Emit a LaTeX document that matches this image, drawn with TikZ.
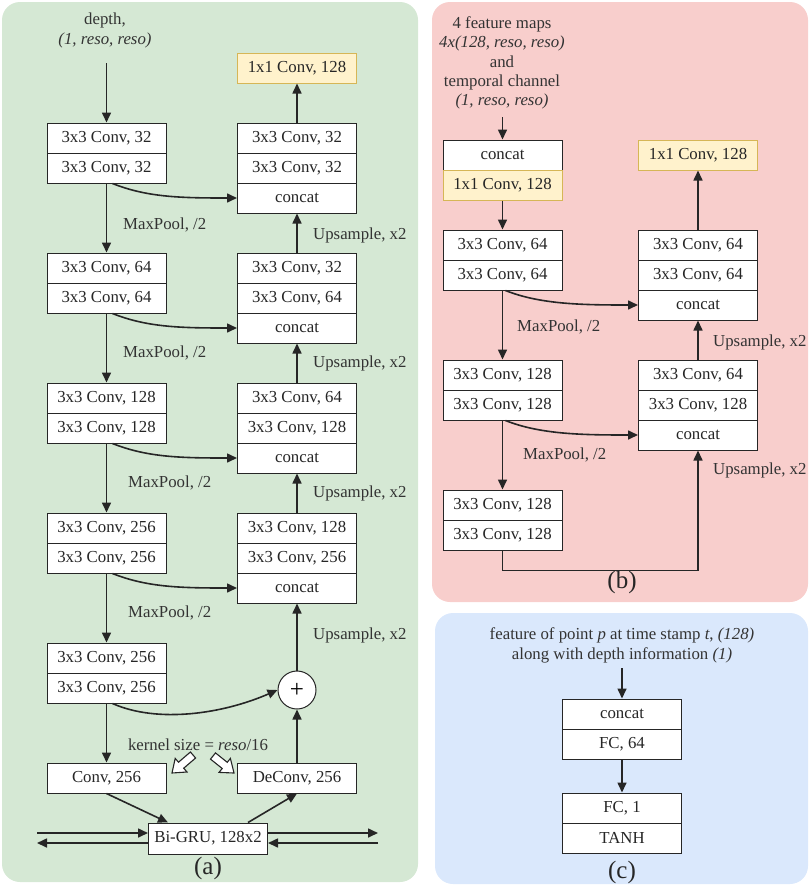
\documentclass[tikz,border=0pt]{standalone}
\usepackage{fontspec}
\setmainfont{Liberation Serif}
\usetikzlibrary{arrows.meta,calc}
\definecolor{gbg}{HTML}{D5E8D4}
\definecolor{pbg}{HTML}{F8CECC}
\definecolor{bbg}{HTML}{DAE8FC}
\definecolor{yfill}{HTML}{FFF2CC}
\definecolor{ydraw}{HTML}{D6B656}
\newcommand{\fsz}{\fontsize{16.8}{19.5}\selectfont}
\newcommand{\fbig}{\fontsize{25}{28}\selectfont}
\begin{document}
\begin{tikzpicture}[x=1pt,y=-1pt,
  blk/.style={draw=black!85, line width=1pt, fill=white, minimum width=119pt, minimum height=30pt, inner sep=0pt, font=\fsz, text=black!85},
  yel/.style={blk, fill=yfill, draw=ydraw},
  arr/.style={-{Triangle[length=10pt,width=9pt]}, line width=1.6pt, draw=black!85},
  lbl/.style={font=\fsz, text=black!80, inner sep=0pt},
  panel/.style={rounded corners=18pt, draw=none},
  hollow/.style={draw=black!85, line width=1.1pt, fill=white, line join=miter},
  captxt/.style={font=\fbig, text=black!85, inner sep=0pt}
]
\useasboundingbox (0,0) rectangle (809,886);
% panels
\fill[gbg, panel] (2,2) rectangle (418,882);
\fill[pbg, panel] (432,2) rectangle (808,602);
\fill[bbg, panel] (435,613) rectangle (808,884);

% ===== panel (a) =====
\node[lbl, align=center, font=\fontsize{16.8}{20}\selectfont] (ain) at (105,30) {depth,\\\textit{(1, reso, reso)}};
\coordinate (ainb) at (106.5,63);
% left column
\node[blk] (a1a) at (106.5,138) {3x3 Conv, 32};
\node[blk] (a1b) at (106.5,168) {3x3 Conv, 32};
\node[blk] (a2a) at (106.5,268) {3x3 Conv, 64};
\node[blk] (a2b) at (106.5,298) {3x3 Conv, 64};
\node[blk] (a3a) at (106.5,398) {3x3 Conv, 128};
\node[blk] (a3b) at (106.5,428) {3x3 Conv, 128};
\node[blk] (a4a) at (106.5,528) {3x3 Conv, 256};
\node[blk] (a4b) at (106.5,558) {3x3 Conv, 256};
\node[blk] (a5a) at (106.5,658) {3x3 Conv, 256};
\node[blk] (a5b) at (106.5,688) {3x3 Conv, 256};
\node[blk] (aconv) at (106.5,778) {Conv, 256};
% right column
\node[yel] (ay) at (297,68) {1x1 Conv, 128};
\node[blk] (r1a) at (297,138) {3x3 Conv, 32};
\node[blk] (r1b) at (297,168) {3x3 Conv, 32};
\node[blk] (r1c) at (297,198) {concat};
\node[blk] (r2a) at (297,268) {3x3 Conv, 32};
\node[blk] (r2b) at (297,298) {3x3 Conv, 64};
\node[blk] (r2c) at (297,328) {concat};
\node[blk] (r3a) at (297,398) {3x3 Conv, 64};
\node[blk] (r3b) at (297,428) {3x3 Conv, 128};
\node[blk] (r3c) at (297,458) {concat};
\node[blk] (r4a) at (297,528) {3x3 Conv, 128};
\node[blk] (r4b) at (297,558) {3x3 Conv, 256};
\node[blk] (r4c) at (297,588) {concat};
\node[circle, draw=black!85, line width=1pt, fill=white, minimum size=38pt, inner sep=0pt, font=\fbig] (plus) at (297,690) {+};
\node[blk] (adec) at (297,778) {DeConv, 256};
\node[blk, minimum height=31pt] (gru) at (208,838.5) {Bi-GRU, 128x2};

% arrows (a)
\draw[arr] (ainb) -- (a1a.north);
\draw[arr] (r1a.north) -- (ay.south);
\draw[arr] (a1b.south) -- (a2a.north);
\draw[arr] (a2b.south) -- (a3a.north);
\draw[arr] (a3b.south) -- (a4a.north);
\draw[arr] (a4b.south) -- (a5a.north);
\draw[arr] (a5b.south) -- (aconv.north);
\draw[arr] ([xshift=6pt]a1b.south) .. controls +(35,14) and +(-55,0) .. (r1c.west);
\draw[arr] ([xshift=6pt]a2b.south) .. controls +(35,14) and +(-55,0) .. (r2c.west);
\draw[arr] ([xshift=6pt]a3b.south) .. controls +(35,14) and +(-55,0) .. (r3c.west);
\draw[arr] ([xshift=6pt]a4b.south) .. controls +(35,14) and +(-55,0) .. (r4c.west);
\draw[arr] ([xshift=6pt]a5b.south) .. controls +(45,20) and +(-55,24) .. (plus.west);
\draw[arr] (r2a.north) -- (r1c.south);
\draw[arr] (r3a.north) -- (r2c.south);
\draw[arr] (r4a.north) -- (r3c.south);
\draw[arr] (plus.north) -- (r4c.south);
\draw[arr] (adec.north) -- (plus.south);
\draw[arr] (aconv.south) -- ([xshift=-40pt]gru.north);
\draw[arr] ([xshift=40pt]gru.north) -- (adec.south);
\coordinate (gl1) at (37,833);
\coordinate (gl2) at (37,843);
\coordinate (gr1) at (378,833);
\coordinate (gr2) at (378,843);
\draw[arr] (gl1) -- (gl1 -| gru.west);
\draw[arr] (gl2 -| gru.west) -- (gl2);
\draw[arr] (gr1 -| gru.east) -- (gr1);
\draw[arr] (gr2) -- (gr2 -| gru.east);

% labels (a)
\node[lbl, anchor=west] (mp1) at (123,225) {MaxPool, /2};
\node[lbl, anchor=west] (mp2) at (123,353) {MaxPool, /2};
\node[lbl, anchor=west] (mp3) at (128,483) {MaxPool, /2};
\node[lbl, anchor=west] (mp4) at (128,613) {MaxPool, /2};
\node[lbl, anchor=west] (up1) at (313,235) {Upsample, x2};
\node[lbl, anchor=west] (up2) at (313,363) {Upsample, x2};
\node[lbl, anchor=west] (up3) at (313,493) {Upsample, x2};
\node[lbl, anchor=west] (up4) at (313,635) {Upsample, x2};
\node[lbl] (ks) at (198,745) {kernel size = \textit{reso}/16};
% hollow arrows
\draw[hollow] (172,773) -- (187.0,772.0) -- (183.7,768.2) -- (195.6,758.0) -- (190.4,752.0) -- (178.5,762.2) -- (175.2,758.4) -- cycle;
\draw[hollow] (234,773) -- (219.0,772.4) -- (222.2,768.5) -- (210.5,759.1) -- (215.5,752.9) -- (227.2,762.3) -- (230.4,758.4) -- cycle;
\node[captxt] (capa) at (208,868) {(a)};

% ===== panel (b) =====
\node[lbl, align=center, font=\fontsize{16.8}{19.3}\selectfont] (bin) at (502,63) {4 feature maps\\\textit{4x(128, reso, reso)}\\and\\temporal channel\\\textit{(1, reso, reso)}};
\coordinate (binb) at (502.5,117);
\node[blk] (bc) at (502.5,155) {concat};
\node[yel] (by) at (502.5,185) {1x1 Conv, 128};
\node[blk] (b1a) at (502.5,245) {3x3 Conv, 64};
\node[blk] (b1b) at (502.5,275) {3x3 Conv, 64};
\node[blk] (b2a) at (502.5,375) {3x3 Conv, 128};
\node[blk] (b2b) at (502.5,405) {3x3 Conv, 128};
\node[blk] (b3a) at (502.5,505) {3x3 Conv, 128};
\node[blk] (b3b) at (502.5,535) {3x3 Conv, 128};
\node[yel] (bry) at (698,155) {1x1 Conv, 128};
\node[blk] (br1a) at (698,245) {3x3 Conv, 64};
\node[blk] (br1b) at (698,275) {3x3 Conv, 64};
\node[blk] (br1c) at (698,305) {concat};
\node[blk] (br2a) at (698,375) {3x3 Conv, 64};
\node[blk] (br2b) at (698,405) {3x3 Conv, 128};
\node[blk] (br2c) at (698,435) {concat};
\draw[arr] (binb) -- (bc.north);
\draw[arr] (by.south) -- (b1a.north);
\draw[arr] (b1b.south) -- (b2a.north);
\draw[arr] (b2b.south) -- (b3a.north);
\draw[arr] (br1a.north) -- (bry.south);
\draw[arr] (br2a.north) -- (br1c.south);
\draw[arr] ([xshift=3pt]b1b.south) .. controls +(35,14) and +(-55,0) .. (br1c.west);
\draw[arr] ([xshift=3pt]b2b.south) .. controls +(35,14) and +(-55,0) .. (br2c.west);
\draw[arr] (b3b.south) -- ++(0,20) -| (br2c.south);
\node[lbl, anchor=west] (bmp1) at (517,327) {MaxPool, /2};
\node[lbl, anchor=west] (bmp2) at (523,455) {MaxPool, /2};
\node[lbl, anchor=west] (bup1) at (713,342) {Upsample, x2};
\node[lbl, anchor=west] (bup2) at (713,470) {Upsample, x2};
\node[captxt] (capb) at (622,582) {(b)};

% ===== panel (c) =====
\node[lbl, align=center, font=\fontsize{16.8}{20}\selectfont] (cin) at (622,645) {feature of point \textit{p} at time stamp \textit{t}, \textit{(128)}\\along with depth information \textit{(1)}};
\coordinate (cinb) at (622,668);
\node[blk] (c1a) at (622,714) {concat};
\node[blk] (c1b) at (622,744) {FC, 64};
\node[blk] (c2a) at (622,808) {FC, 1};
\node[blk] (c2b) at (622,838) {TANH};
\draw[arr] (cinb) -- (c1a.north);
\draw[arr] (c1b.south) -- (c2a.north);
\node[captxt] (capc) at (622,872) {(c)};
\end{tikzpicture}
\end{document}
